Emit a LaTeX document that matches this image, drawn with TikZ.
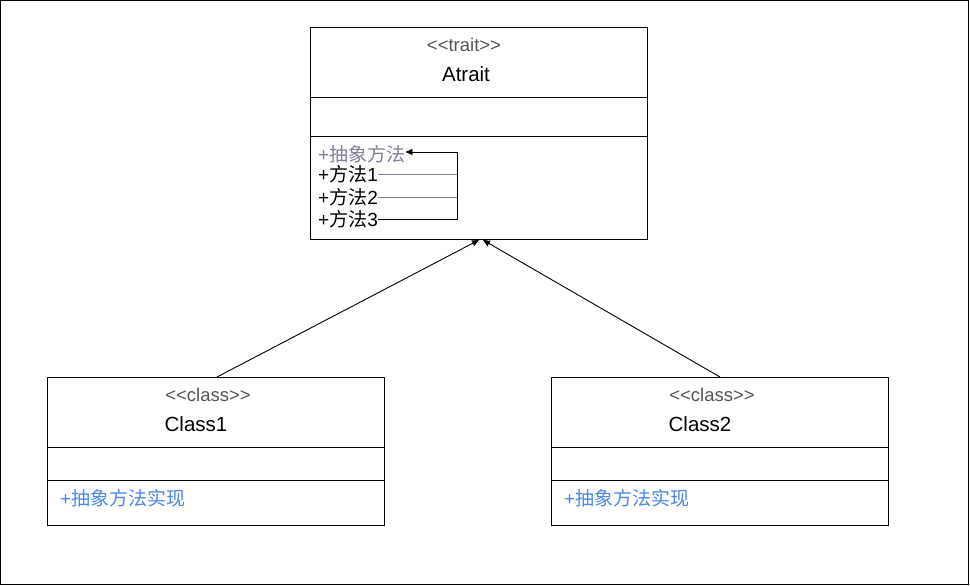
\documentclass[tikz,border=0pt]{standalone}
\usepackage{fontspec}
\setmainfont{Liberation Sans}
\newfontfamily\cjk{Noto Sans CJK SC}
\usetikzlibrary{arrows.meta}
\definecolor{stereo}{HTML}{555555}
\definecolor{absgray}{HTML}{7F7F95}
\definecolor{implblue}{HTML}{4A86E8}
\tikzset{
  umlbox/.style={draw, line width=0.9pt, anchor=north west, inner sep=0},
  stereotxt/.style={text=stereo, font=\fontsize{18.5}{20}\selectfont, inner sep=0},
  nametxt/.style={text=black, font=\fontsize{20.5}{23}\selectfont, inner sep=0},
  membertxt/.style={font=\fontsize{19}{21}\selectfont, inner sep=0, anchor=west},
  link/.style={line width=0.9pt},
  inherit/.style={line width=0.9pt, -{Triangle[length=7pt,width=6pt]}},
}
\begin{document}
\begin{tikzpicture}[x=1pt,y=-1pt]
\useasboundingbox (0,0) rectangle (970,586);
\draw[line width=1.2pt] (0.6,0.6) rectangle (968.5,584.5);
% Atrait
\node[umlbox, minimum width=337pt, minimum height=212pt] (A) at (310,27) {};
\draw[line width=0.9pt] (310,97) -- (647,97);
\draw[line width=0.9pt] (310,136) -- (647,136);
\node[stereotxt] (As) at (464,45) {{<}{<}trait{>}{>}};
\node[nametxt] (An) at (466,74) {Atrait};
\node[membertxt, text=absgray] (abs) at (318,154) {+{\cjk 抽象方法}};
\node[membertxt] (m1) at (318,174) {+{\cjk 方法}1};
\node[membertxt] (m2) at (318,197) {+{\cjk 方法}2};
\node[membertxt] (m3) at (318,219) {+{\cjk 方法}3};
\coordinate (j) at (457,152);
\draw[link, gray] (m1.east) -- (m1.east -| j);
\draw[link, gray] (m2.east) -- (m2.east -| j);
\draw[link, -{Triangle[length=7pt,width=6pt]}] (m3.east) -| (j) -- (abs.east |- j);
% Class1
\node[umlbox, minimum width=337pt, minimum height=148pt] (C1) at (47,377) {};
\draw[line width=0.9pt] (47,447) -- (384,447);
\draw[line width=0.9pt] (47,480) -- (384,480);
\node[stereotxt] (C1s) at (208,395) {{<}{<}class{>}{>}};
\node[nametxt] (C1n) at (196,424) {Class1};
\node[membertxt, text=implblue] (C1m) at (60,498) {+{\cjk 抽象方法实现}};
% Class2
\node[umlbox, minimum width=337pt, minimum height=148pt] (C2) at (551,377) {};
\draw[line width=0.9pt] (551,447) -- (888,447);
\draw[line width=0.9pt] (551,480) -- (888,480);
\node[stereotxt] (C2s) at (712,395) {{<}{<}class{>}{>}};
\node[nametxt] (C2n) at (700,424) {Class2};
\node[membertxt, text=implblue] (C2m) at (564,498) {+{\cjk 抽象方法实现}};
% inheritance
\coordinate (c1t) at (217,377);
\coordinate (c2t) at (720,377);
\coordinate (t1) at (479,240);
\coordinate (t2) at (483,240);
\draw[inherit] (c1t) -- (t1);
\draw[inherit] (c2t) -- (t2);
\end{tikzpicture}
\end{document}
